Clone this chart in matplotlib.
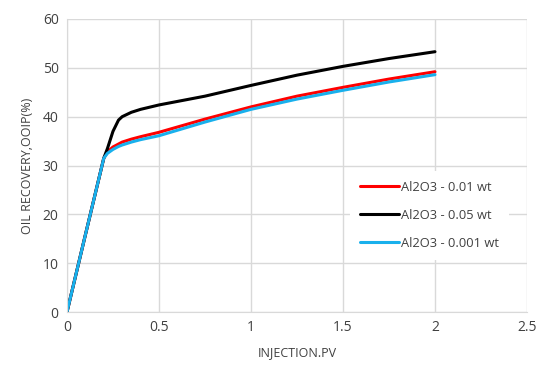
import numpy as np
import matplotlib
matplotlib.use('Agg')
import matplotlib.pyplot as plt

plt.rcParams['font.family'] = ['Open Sans', 'DejaVu Sans']

# --- data ---
pv = [0, 0.1, 0.2, 0.22, 0.25, 0.28, 0.3, 0.35, 0.4, 0.5, 0.75, 1.0, 1.25, 1.5, 1.75, 2.0]
rec_001 = [0, 15.8, 31.5, 32.8, 33.8, 34.4, 34.8, 35.4, 35.9, 36.8, 39.5, 42.0, 44.2, 46.0, 47.7, 49.2]
rec_005 = [0, 15.8, 31.5, 33.5, 37.0, 39.3, 40.0, 40.9, 41.5, 42.4, 44.2, 46.4, 48.5, 50.3, 51.9, 53.3]
rec_0001 = [0, 15.8, 31.5, 32.5, 33.3, 33.9, 34.2, 34.8, 35.3, 36.1, 38.9, 41.5, 43.6, 45.4, 47.1, 48.6]

labels = ['Al2O3 - 0.01 wt', 'Al2O3 - 0.05 wt', 'Al2O3 - 0.001 wt']
colors = ['#ff0000', '#000000', '#19b0ec']

fig = plt.figure(figsize=(5.38, 3.65), dpi=100)
ax = fig.add_axes([0.1245, 0.145, 0.855, 0.803])

for y, lab, c in zip([rec_001, rec_005, rec_0001], labels, colors):
    ax.plot(pv, y, color=c, lw=2.2, label=lab, solid_capstyle='round')

ax.set_xlim(0, 2.5)
ax.set_ylim(0, 60)
ax.set_xticks(np.arange(0, 2.51, 0.5))
ax.set_xticklabels(['0', '0.5', '1', '1.5', '2', '2.5'])
ax.set_yticks(range(0, 61, 10))
ax.grid(color='#d9d9d9', lw=1)
ax.set_axisbelow(True)
for s in ['top', 'right']:
    ax.spines[s].set_visible(False)
for s in ['left', 'bottom']:
    ax.spines[s].set_color('#d9d9d9')
ax.tick_params(length=0, labelsize=10, colors='#404040', pad=6)

ax.set_xlabel('INJECTION.PV', fontsize=9, color='#404040', labelpad=8)
ax.set_ylabel('OIL RECOVERY,OOIP(%)', fontsize=9, color='#404040', labelpad=6)

leg = ax.legend(loc='center right', bbox_to_anchor=(0.975, 0.33), frameon=True,
                fontsize=9.3, handlelength=3.0, handletextpad=0.15, labelspacing=1.15,
                borderpad=0.8, fancybox=False)
leg.get_frame().set_edgecolor('none')
leg.get_frame().set_facecolor('white')
leg.get_frame().set_alpha(1)
for t in leg.get_texts():
    t.set_color('#404040')

fig.savefig('out.png', dpi=100)
